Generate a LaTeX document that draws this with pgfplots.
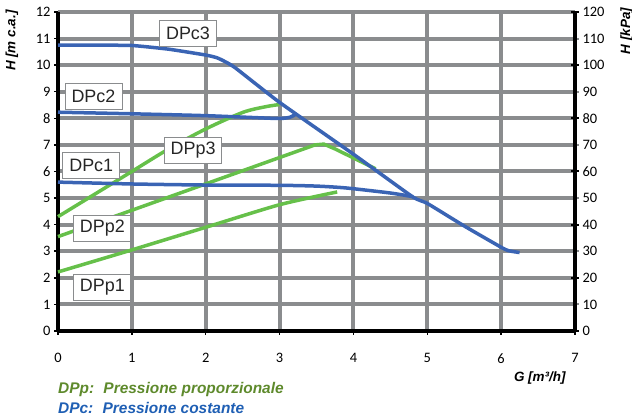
\documentclass[border=0pt]{standalone}
\usepackage{pgfplots}
\pgfplotsset{compat=1.18}
\usepackage{fontspec}
\setmainfont{Carlito}
\newfontfamily\arial{Liberation Sans}
\definecolor{cblue}{HTML}{3A64B4}
\definecolor{cgreen}{HTML}{66C04A}
\definecolor{cgrid}{HTML}{8A8C8E}
\definecolor{lgreen}{HTML}{5E8A2C}
\definecolor{lblue}{HTML}{1F5FB4}
\tikzset{lbl/.style={draw=cgrid, fill=white, line width=0.8bp, font=\arial\fontsize{18}{18}\selectfont, minimum width=57bp, minimum height=26bp, inner sep=1bp, text=black!85}}
\begin{document}
\begin{tikzpicture}
\begin{axis}[
  name=main,
  scale only axis, width=517bp, height=319bp,
  xmin=0, xmax=7, ymin=0, ymax=12,
  xtick={0,...,7}, ytick={0,...,12},
  grid=major, major grid style={cgrid, line width=4bp},
  axis x line*=bottom, axis y line*=left,
  axis line style={-, black, line width=4.5bp},
  tick align=outside, major tick length=4bp,
  tick style={black, line width=1.5bp},
  ticklabel style={font=\fontsize{14.5}{14.5}\selectfont},
  xticklabel style={yshift=-15bp},
  /pgf/number format/assume math mode=true,
  clip=false,
]
% DPp1
\addplot[cgreen, line width=3.5bp, smooth, tension=0.4] coordinates {(0,2.22) (1,3.05) (2,3.9) (3,4.75) (3.78,5.23)};
% DPp2
\addplot[cgreen, line width=3.5bp] coordinates {(0,3.55) (3.48,7.0) (3.6,7.03) (3.75,6.85) (4.3,6.1)};
% DPp3
\addplot[cgreen, line width=3.5bp, smooth, tension=0.5] coordinates {(0,4.3) (0.5,5.15) (1,6.0) (1.5,6.85) (2,7.6) (2.5,8.22) (2.8,8.43) (3.0,8.52)};
% DPc1
\addplot[cblue, line width=3.5bp, smooth, tension=0.4] coordinates {(0,5.6) (1,5.53) (2,5.49) (3,5.48) (3.5,5.45) (3.9,5.38) (4.5,5.19) (4.81,5.05)};
% DPc2
\addplot[cblue, line width=3.5bp, smooth, tension=0.4] coordinates {(0,8.23) (1,8.17) (2,8.1) (2.9,8.0) (3.05,8.0) (3.14,8.04) (3.22,8.15)};
% DPc3
\addplot[cblue, line width=3.5bp, smooth, tension=0.3] coordinates {(0,10.75) (0.5,10.75) (1,10.74) (1.5,10.6) (2,10.38) (2.15,10.28) (2.25,10.15) (2.4,9.9) (3.0,8.6) (4.0,6.65) (4.8,5.05) (5.0,4.8) (5.5,3.95) (6.0,3.15) (6.1,3.02) (6.25,2.95)};
\node[lbl] at (axis cs:1.76,11.2) {DPc3};
\node[lbl] at (axis cs:0.48,8.83) {DPc2};
\node[lbl] at (axis cs:0.45,6.24) {DPc1};
\node[lbl] at (axis cs:1.83,6.8) {DPp3};
\node[lbl] at (axis cs:0.6,3.87) {DPp2};
\node[lbl] at (axis cs:0.6,1.65) {DPp1};
\node[rotate=90, font=\arial\bfseries\itshape\fontsize{13.5}{13.5}\selectfont] at (rel axis cs:-0.089,0.91) {H [m c.a.]};
\node[rotate=90, font=\arial\bfseries\itshape\fontsize{13.5}{13.5}\selectfont] at (rel axis cs:1.1,0.94) {H [kPa]};
\node[font=\arial\bfseries\itshape\fontsize{13.5}{13.5}\selectfont] at (rel axis cs:0.932,-0.147) {G [m³/h]};
\node[anchor=west, inner sep=0pt, text=lgreen, font=\arial\bfseries\itshape\fontsize{15.5}{15.5}\selectfont] at (rel axis cs:0,-0.185) {DPp:\hspace{0.6em}Pressione proporzionale};
\node[anchor=west, inner sep=0pt, text=lblue, font=\arial\bfseries\itshape\fontsize{15.5}{15.5}\selectfont] at (rel axis cs:0,-0.241) {DPc:\hspace{0.6em}Pressione costante};
\coordinate (bbsw) at (rel axis cs:-0.1122,-0.279);
\coordinate (bbne) at (rel axis cs:1.1103,1.0376);
\end{axis}
\begin{axis}[
  scale only axis, width=517bp, height=319bp,
  xmin=0, xmax=7, ymin=0, ymax=120,
  axis x line=none, axis y line*=right,
  axis line style={-, black, line width=4.5bp},
  ytick={0,10,...,120},
  tick align=outside, major tick length=4bp,
  tick style={cgrid, line width=2bp},
  extra y ticks={0,20,...,120}, extra y tick labels={},
  extra y tick style={tick align=center, major tick length=8bp, tick style={black, line width=2bp}},
  ticklabel style={font=\fontsize{14.5}{14.5}\selectfont},
  /pgf/number format/assume math mode=true,
]
\end{axis}
\pgfresetboundingbox
\path[use as bounding box] (bbsw) rectangle (bbne);
\end{tikzpicture}
\end{document}
